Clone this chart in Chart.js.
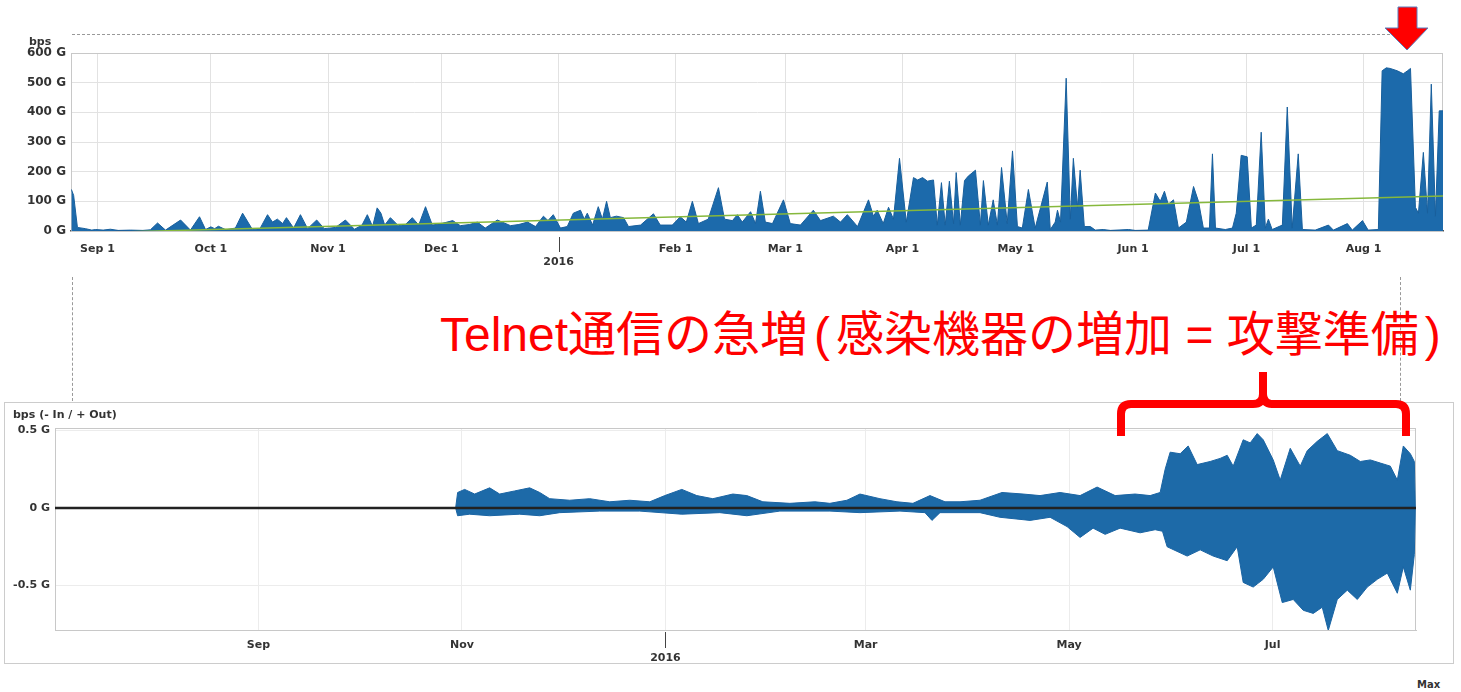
<!DOCTYPE html>
<html lang="ja">
<head>
<meta charset="UTF-8">
<title>Telnet traffic</title>
<script src="https://cdn.jsdelivr.net/npm/chart.js"></script>
<style>
  body { margin: 0; background: #fff; width: 1461px; height: 692px; position: relative; overflow: hidden; font-family: "DejaVu Sans", sans-serif; }
  canvas, .abs { position: absolute; }
  .lbl { font-size: 11px; font-weight: bold; color: #333; }
  .note { left: 440px; top: 311px; font-family: "Liberation Sans", "Noto Sans CJK JP", sans-serif; font-size: 48px; line-height: 48px; color: #ff0000; white-space: nowrap; }
  .note .po { margin: 0 6px; }
  .note .pc { margin-left: 6px; }
</style>
</head>
<body>
  <div class="abs" style="left:72px;top:34px;width:1318px;border-top:1px dashed #999"></div>
  <div class="abs" style="left:72px;top:277px;height:124px;border-left:1px dashed #999"></div>
  <div class="abs" style="left:1400px;top:277px;height:124px;border-left:1px dashed #999"></div>
  <div class="abs" style="left:4px;top:402px;width:1450px;height:262px;box-sizing:border-box;border:1px solid #ccc"></div>

  <canvas id="topChart" width="1461" height="275" style="left:0;top:0"></canvas>
  <canvas id="bottomChart" width="1448" height="260" style="left:5px;top:403px"></canvas>

  <div class="abs lbl" style="left:29px;top:35px">bps</div>
  <div class="abs lbl" style="left:13px;top:408px">bps (- In / + Out)</div>
  <div class="abs lbl" style="left:1417px;top:679px;font-size:10px">Max</div>
  <div class="abs note">Telnet通信の急増<span class="po">(</span>感染機器の増加 = 攻撃準備<span class="pc">)</span></div>

  <svg class="abs" style="left:0;top:0" width="1461" height="692">
    <path d="M1398,7 H1417 V28 H1428 L1407,50 L1385,28 H1398 Z" fill="#ff0000" stroke="#5b7fbf" stroke-width="1"/>
    <path d="M1121,436 V414 Q1121,404 1131,404 H1253 Q1263,404 1263,394 V372 M1263,394 Q1263,404 1273,404 H1396 Q1406,404 1406,414 V436"
          fill="none" stroke="#ff0000" stroke-width="8" stroke-linejoin="round"/>
  </svg>

  <script>
    // days counted from 2015-09-01
    const monthDays = [0, 30, 61, 91, 122, 153, 182, 213, 243, 274, 304, 335];
    const monthLabels = ['Sep 1', 'Oct 1', 'Nov 1', 'Dec 1', ['', '2016'], 'Feb 1', 'Mar 1', 'Apr 1', 'May 1', 'Jun 1', 'Jul 1', 'Aug 1'];
    const yTopTicks = [0, 100, 200, 300, 400, 500, 600];

    const topDays = [-6.9, -6.3, -5.3, -3.2, -1.5, -0.5, 1.5, 3.4, 5.5, 8.7, 12, 14, 15.9, 18, 22, 24.6, 27, 28.6, 30, 31, 32, 34, 36.5, 38.4, 41, 43, 45, 46.3, 47.6, 49, 50, 51.9, 53.7, 55.6, 58, 60, 63, 65.6, 68, 70, 71.4, 72.8, 74, 75, 76, 77.5, 79.6, 81.5, 83.3, 85, 86.8, 88.6, 91, 94, 96, 98.5, 100.5, 102.6, 105.8, 109.3, 111.5, 113.8, 115.9, 118, 119.2, 120.6, 122.5, 124.3, 125.9, 127.8, 128.8, 129.6, 131, 132.5, 133.6, 134.7, 135.7, 137.3, 139.2, 140.5, 143.7, 147.1, 148.9, 152.1, 154.2, 155.8, 157.4, 159, 161.6, 164.3, 165.9, 168, 169.3, 170.6, 172.8, 174.1, 175.4, 176.7, 178.6, 181.5, 183.3, 186, 189.4, 191.3, 194.7, 196.6, 198.4, 201.1, 204, 205.3, 206.3, 207.9, 209.3, 210.6, 212.2, 214, 215.9, 217, 218.3, 219.6, 221.2, 222.2, 223.3, 224.3, 225.4, 226.5, 227.2, 228.3, 229.4, 230.4, 232.3, 233.6, 234.4, 235.7, 237, 238.1, 239.2, 240.7, 242.1, 243.4, 244.7, 246.3, 248.1, 251.3, 252.1, 253.4, 254, 254.8, 256.3, 257.4, 258.2, 259.3, 260, 261.1, 262.7, 264, 266.1, 268, 272.8, 274.6, 278, 279.9, 281.2, 282.3, 283.3, 284.7, 286, 288.1, 290, 291.3, 292.6, 294.2, 295, 295.8, 298.4, 300.3, 301.3, 302.6, 304.2, 305.3, 306.6, 307.9, 309, 309.8, 310.8, 313.5, 314.8, 316.1, 317.7, 318.8, 322.2, 325.7, 327, 330.7, 332, 334.7, 336.2, 338.9, 339.9, 341, 342, 343.9, 345.5, 346.6, 347.4, 348.7, 349.5, 350.8, 351.9, 352.9, 354, 355, 356];
    const topGbps = [140, 120, 12, 8, 3, 5, 3, 6, 2, 3, 2, 4, 27, 3, 37, 3, 48, 5, 14, 8, 16, 4, 10, 60, 5, 8, 55, 30, 40, 25, 45, 10, 55, 8, 37, 8, 12, 37, 6, 20, 55, 15, 78, 60, 20, 45, 18, 22, 45, 20, 82, 20, 25, 35, 18, 22, 30, 10, 37, 18, 22, 30, 15, 50, 35, 55, 10, 15, 60, 70, 40, 60, 20, 82, 40, 100, 45, 50, 45, 15, 20, 58, 20, 20, 48, 30, 100, 25, 40, 146, 40, 35, 55, 30, 65, 25, 134, 30, 25, 105, 25, 20, 70, 35, 50, 30, 55, 15, 105, 50, 70, 25, 80, 40, 245, 30, 180, 172, 180, 168, 172, 20, 163, 20, 168, 25, 197, 20, 170, 185, 205, 20, 170, 20, 105, 20, 214, 25, 270, 15, 10, 140, 10, 165, 5, 30, 70, 30, 515, 40, 245, 80, 205, 15, 15, 3, 5, 2, 5, 2, 3, 128, 100, 134, 90, 105, 10, 30, 150, 100, 10, 10, 260, 10, 5, 10, 60, 255, 250, 10, 20, 333, 10, 40, 5, 20, 418, 10, 260, 5, 3, 20, 3, 25, 3, 35, 3, 5, 540, 550, 548, 540, 530, 540, 548, 80, 60, 265, 60, 495, 50, 405, 405];
    const trendDays = [-7, 356];
    const trendGbps = [-8, 118];

    const bottomMonthDays = [0, 61, 122, 182, 243, 304];
    const bottomMonthLabels = ['Sep', 'Nov', ['', '2016'], 'Mar', 'May', 'Jul'];
    const yBottomTicks = [-0.5, 0, 0.5];

    const outDays = [59.1, 59.7, 61.8, 64.8, 69.3, 72.3, 76.8, 81.3, 84.3, 87.3, 93.3, 99.3, 105.3, 111.3, 117.3, 121.8, 126.9, 131.4, 136.2, 142.2, 146.4, 151.2, 159.3, 166.8, 171.3, 176.4, 180.3, 186.3, 191.4, 196.2, 201.3, 205.8, 210.3, 216.3, 222.9, 229.2, 234.3, 240.3, 246.3, 251.4, 256.8, 262.8, 267.3, 270.3, 271.8, 273.3, 276.3, 278.7, 281.4, 285.3, 288.3, 290.4, 292.2, 295.2, 297.3, 299.4, 301.2, 304.2, 306.3, 309.3, 312.3, 314.4, 317.4, 320.4, 323.4, 327.3, 330.3, 333.3, 336.3, 339.3, 341.4, 343.2, 345.3, 346.5, 346.8];
    const outGbps = [0, 0.10, 0.12, 0.09, 0.13, 0.09, 0.11, 0.13, 0.10, 0.06, 0.05, 0.06, 0.04, 0.05, 0.04, 0.08, 0.12, 0.08, 0.06, 0.09, 0.08, 0.04, 0.03, 0.04, 0.03, 0.05, 0.09, 0.06, 0.04, 0.03, 0.08, 0.04, 0.04, 0.05, 0.10, 0.09, 0.08, 0.10, 0.08, 0.135, 0.08, 0.09, 0.08, 0.10, 0.25, 0.36, 0.35, 0.40, 0.28, 0.30, 0.32, 0.34, 0.27, 0.44, 0.42, 0.48, 0.44, 0.31, 0.18, 0.385, 0.27, 0.37, 0.43, 0.48, 0.37, 0.34, 0.30, 0.31, 0.29, 0.27, 0.18, 0.40, 0.35, 0.30, 0];
    const inDays = [59.1, 59.7, 63.3, 69.3, 78.3, 84.3, 90.3, 102.3, 114.3, 126.9, 138.3, 146.4, 156.3, 171.3, 180.3, 192.3, 199.8, 201.9, 204.3, 210.3, 216.3, 222.3, 231.3, 237.3, 242.4, 246.3, 250.2, 253.8, 258.3, 264.3, 268.8, 271.0, 272.4, 278.4, 282.3, 286.2, 290.4, 293.4, 295.2, 298.2, 301.2, 304.2, 306.9, 310.2, 313.2, 316.2, 318.9, 320.7, 323.4, 326.4, 329.4, 332.4, 335.4, 338.4, 341.4, 343.2, 345.3, 346.5, 346.8];
    const inGbps = [0, -0.05, -0.04, -0.05, -0.04, -0.05, -0.03, -0.02, -0.02, -0.04, -0.03, -0.05, -0.02, -0.02, -0.03, -0.02, -0.03, -0.08, -0.03, -0.03, -0.03, -0.06, -0.08, -0.06, -0.12, -0.19, -0.13, -0.17, -0.13, -0.16, -0.14, -0.15, -0.25, -0.31, -0.27, -0.31, -0.34, -0.25, -0.48, -0.51, -0.46, -0.38, -0.61, -0.59, -0.66, -0.68, -0.64, -0.79, -0.59, -0.53, -0.59, -0.51, -0.46, -0.42, -0.55, -0.38, -0.53, -0.30, 0];

    const toPoints = (xs, ys) => xs.map((x, i) => ({ x: x, y: ys[i] }));
    const tickFont = { family: 'DejaVu Sans', size: 11, weight: 'bold', lineHeight: 1.15 };
    const yTickFont = { family: 'DejaVu Sans', size: 12, weight: 'bold' };

    // short tick under the year label
    const yearMark = {
      id: 'yearMark',
      afterDraw(chart, args, opts) {
        const ctx = chart.ctx;
        const x = chart.scales.x.getPixelForValue(122);
        ctx.save();
        ctx.strokeStyle = '#444';
        ctx.lineWidth = 1;
        ctx.beginPath();
        ctx.moveTo(Math.round(x) + 0.5, chart.chartArea.bottom + opts.from);
        ctx.lineTo(Math.round(x) + 0.5, chart.chartArea.bottom + opts.to);
        ctx.stroke();
        ctx.restore();
      }
    };

    const frame = {
      id: 'frame',
      beforeDatasetsDraw(chart) {
        const a = chart.chartArea, ctx = chart.ctx;
        ctx.save();
        ctx.strokeStyle = '#c8c8c8';
        ctx.strokeRect(a.left + 0.5, a.top + 0.5, a.right - a.left - 1, a.bottom - a.top);
        ctx.restore();
      }
    };

    new Chart(document.getElementById('topChart'), {
      type: 'line',
      data: {
        datasets: [{
          data: toPoints(trendDays, trendGbps),
          borderColor: '#86b83c',
          borderWidth: 1.5,
          fill: false,
          pointRadius: 0
        }, {
          data: toPoints(topDays, topGbps),
          borderColor: '#185f9c',
          backgroundColor: '#1c6aab',
          borderWidth: 1,
          fill: 'origin',
          pointRadius: 0,
          tension: 0
        }]
      },
      options: {
        responsive: false,
        animation: false,
        layout: { padding: { left: 0, right: 18, top: 53, bottom: 0 } },
        plugins: { legend: { display: false }, tooltip: { enabled: false }, yearMark: { from: 6, to: 21 } },
        scales: {
          x: {
            type: 'linear', min: -7, max: 356,
            afterBuildTicks: s => { s.ticks = monthDays.map(v => ({ value: v })); },
            afterFit: s => { s.height = 44; },
            ticks: { callback: (v, i) => monthLabels[i], font: tickFont, color: '#333', padding: 12, maxRotation: 0, autoSkip: false },
            grid: { color: '#e2e2e2', drawTicks: false },
            border: { color: '#555', width: 1.5 }
          },
          y: {
            min: 0, max: 600,
            afterBuildTicks: s => { s.ticks = yTopTicks.map(v => ({ value: v })); },
            afterFit: s => { s.width = 71; },
            ticks: { callback: v => v + ' G', font: yTickFont, color: '#333', padding: 5 },
            grid: { color: '#e2e2e2', drawTicks: false },
            border: { color: '#c8c8c8' }
          }
        }
      },
      plugins: [yearMark, frame]
    });

    new Chart(document.getElementById('bottomChart'), {
      type: 'line',
      data: {
        datasets: [{
          data: [{ x: -61, y: 0 }, { x: 347, y: 0 }],
          borderColor: '#222',
          borderWidth: 2.5,
          fill: false,
          pointRadius: 0
        }, {
          data: toPoints(outDays, outGbps),
          borderColor: '#1a64a3',
          backgroundColor: '#1d6aa8',
          borderWidth: 1,
          fill: 'origin',
          pointRadius: 0
        }, {
          data: toPoints(inDays, inGbps),
          borderColor: '#1a64a3',
          backgroundColor: '#1d6aa8',
          borderWidth: 1,
          fill: 'origin',
          pointRadius: 0
        }]
      },
      options: {
        responsive: false,
        animation: false,
        layout: { padding: { left: 0, right: 37, top: 25, bottom: 0 } },
        plugins: { legend: { display: false }, tooltip: { enabled: false }, yearMark: { from: 2, to: 18 } },
        scales: {
          x: {
            type: 'linear', min: -61, max: 347,
            afterBuildTicks: s => { s.ticks = bottomMonthDays.map(v => ({ value: v })); },
            afterFit: s => { s.height = 33; },
            ticks: { callback: (v, i) => bottomMonthLabels[i], font: tickFont, color: '#333', padding: 9, maxRotation: 0, autoSkip: false },
            grid: { color: '#ececec', drawTicks: false },
            border: { color: '#c8c8c8' }
          },
          y: {
            min: -0.787, max: 0.516,
            afterBuildTicks: s => { s.ticks = yBottomTicks.map(v => ({ value: v })); },
            afterFit: s => { s.width = 50; },
            ticks: { callback: v => v + ' G', font: tickFont, color: '#333', padding: 5 },
            grid: { color: '#ececec', drawTicks: false },
            border: { color: '#c8c8c8' }
          }
        }
      },
      plugins: [yearMark, frame]
    });
  </script>
</body>
</html>
